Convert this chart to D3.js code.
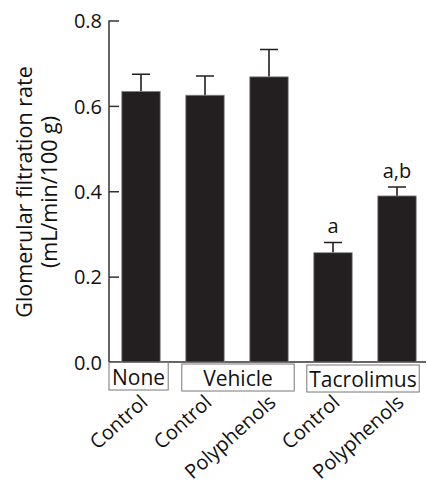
<!DOCTYPE html>
<html>
<head>
<meta charset="utf-8">
<script src="https://cdn.jsdelivr.net/npm/d3@7/dist/d3.min.js"></script>
<style>
  body { margin: 0; background: #fff; }
  text { font-family: "Open Sans", "Noto Sans", sans-serif; fill: #111; }
</style>
</head>
<body>
<div id="chart-area"></div>
<script>
// ** Data **
var categories = ["Control", "Control", "Polyphenols", "Control", "Polyphenols"];
var values = [0.634, 0.625, 0.668, 0.256, 0.389];
var errors = [0.040, 0.045, 0.064, 0.024, 0.021];
var marks = ["", "", "", "a", "a,b"];
var groups = ["None", "Vehicle", "Tacrolimus"];
var groupSpans = [[0, 0], [1, 2], [3, 4]];
var yTicks = [0, 0.2, 0.4, 0.6, 0.8];

// ** Dimensions **
var width = 427, height = 485;
var margin = { left: 109, top: 20.5, right: 1 };
var plotBottom = 362;
var fontSize = 21;

var svg = d3.select("#chart-area")
	.append("svg")
	.attr("width", width)
	.attr("height", height);

// Scales
var x = d3.scaleBand()
	.domain(d3.range(categories.length))
	.range([109, 429])
	.paddingInner(0.4)
	.paddingOuter(0.2);
var y = d3.scaleLinear()
	.domain([0, 0.8])
	.range([plotBottom, margin.top]);

// Y Axis (ticks point inward)
var yAxis = d3.axisRight(y)
	.tickValues(yTicks)
	.tickSize(10)
	.tickFormat(d3.format(".1f"));
var yg = svg.append("g")
	.attr("transform", "translate(" + margin.left + ",0)")
	.call(yAxis);
yg.select(".domain").attr("d", "M0," + y(0.8) + "V" + plotBottom).attr("stroke", "#333").attr("stroke-width", 1.5);
yg.selectAll(".tick line").attr("stroke", "#333").attr("stroke-width", 1.5);
yg.selectAll(".tick text")
	.attr("x", -7)
	.attr("dy", "0.36em")
	.attr("text-anchor", "end")
	.attr("font-size", 20)
	.attr("font-family", "'Open Sans', sans-serif")
	.attr("fill", "#111");

// Baseline
svg.append("line")
	.attr("x1", margin.left).attr("x2", 426)
	.attr("y1", plotBottom).attr("y2", plotBottom)
	.attr("stroke", "#333").attr("stroke-width", 1.5);

// Error bars
var capW = 18;
svg.selectAll(".err")
	.data(values)
	.enter()
	.append("path")
	.attr("class", "err")
	.attr("fill", "none")
	.attr("stroke", "#231f20")
	.attr("stroke-width", 1.6)
	.attr("d", function(d, i){
		var cx = x(i) + x.bandwidth() / 2;
		var top = y(d + errors[i]);
		return "M" + cx + "," + y(d) + "V" + top + "M" + (cx - capW/2) + "," + top + "H" + (cx + capW/2);
	});

// Bars
svg.selectAll(".bar")
	.data(values)
	.enter()
	.append("rect")
	.attr("class", "bar")
	.attr("x", function(d, i){ return x(i); })
	.attr("y", function(d){ return y(d); })
	.attr("width", x.bandwidth())
	.attr("height", function(d){ return plotBottom - y(d); })
	.attr("fill", "#231f20")
	.attr("stroke", "#8a8a8a")
	.attr("stroke-width", 0.8);

// Significance marks
svg.selectAll(".mark")
	.data(marks)
	.enter()
	.append("text")
	.attr("class", "mark")
	.attr("x", function(d, i){ return x(i) + x.bandwidth() / 2; })
	.attr("y", function(d, i){ return y(values[i] + errors[i]) - 9; })
	.attr("text-anchor", "middle")
	.attr("font-size", 20)
	.text(function(d){ return d; });

// Group boxes
var boxTop = [362.5, 364, 365];
var boxBottom = [390, 391, 392];
var boxPad = [[0, 8], [4, 6], [7, 3]];
groups.forEach(function(g, k){
	var x0 = k === 0 ? margin.left : x(groupSpans[k][0]) - boxPad[k][0];
	var x1 = x(groupSpans[k][1]) + x.bandwidth() + boxPad[k][1];
	svg.append("rect")
		.attr("x", x0)
		.attr("y", boxTop[k])
		.attr("width", x1 - x0)
		.attr("height", boxBottom[k] - boxTop[k])
		.attr("fill", "#fff")
		.attr("stroke", "#777")
		.attr("stroke-width", 1);
	svg.append("text")
		.attr("x", (x0 + x1) / 2)
		.attr("y", boxBottom[k] - 5.5)
		.attr("text-anchor", "middle")
		.attr("font-size", fontSize)
		.text(g);
});

// Category labels, rotated
svg.selectAll(".cat")
	.data(categories)
	.enter()
	.append("text")
	.attr("class", "cat")
	.attr("text-anchor", "end")
	.attr("font-size", 20)
	.attr("transform", function(d, i){
		var cx = x(i) + x.bandwidth() / 2 + 8;
		return "translate(" + cx + ",404) rotate(-42)";
	})
	.text(function(d){ return d; });

// Y label
var yLabel = svg.append("g")
	.attr("transform", "translate(0," + 192 + ") rotate(-90)");
yLabel.append("text")
	.attr("x", 0).attr("y", 32)
	.attr("text-anchor", "middle")
	.attr("font-size", 21.5)
	.text("Glomerular filtration rate");
yLabel.append("text")
	.attr("x", 0).attr("y", 57)
	.attr("text-anchor", "middle")
	.attr("font-size", 21.5)
	.text("(mL/min/100 g)");
</script>
</body>
</html>
